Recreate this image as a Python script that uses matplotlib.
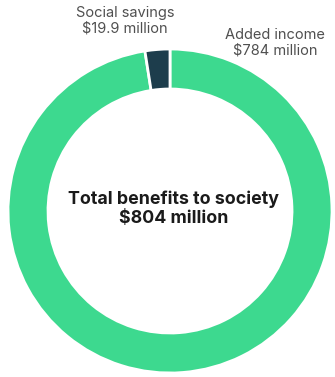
import matplotlib.pyplot as plt

# Data
labels = ["Added income", "Social savings"]
values = [784, 19.9]
value_text = ["$784 million", "$19.9 million"]
total_text = "$804 million"
colors = ["#3DD98F", "#1D3D4C"]

W, H = 335, 377
CX, CY, R = 170, 211, 162


def px(x, y):
    # pixel position -> data coords (radius 1 = R pixels)
    return (x - CX) / R, (CY - y) / R


fig = plt.figure(figsize=(W / 100, H / 100), dpi=100)
ax = fig.add_axes([0, 0, 1, 1])
ax.pie(values, colors=colors, startangle=90, counterclock=False, radius=1,
       wedgeprops=dict(width=40 / R, edgecolor="white", linewidth=2))
ax.set_xlim(-CX / R, (W - CX) / R)
ax.set_ylim(-(H - CY) / R, CY / R)
ax.set_aspect("equal")
ax.axis("off")

lab_font = dict(fontsize=10.5, color="#505050", ha="center", va="center",
                family="Inter", linespacing=1.15)
ax.text(*px(125, 21), labels[1] + "\n" + value_text[1].replace("$", r"\$"), **lab_font)
ax.text(*px(275, 43), labels[0] + "\n" + value_text[0].replace("$", r"\$"), **lab_font)

ax.text(*px(174, 209), "Total benefits to society\n" + total_text.replace("$", r"\$"),
        fontsize=12.8, fontweight="bold", color="#1a1a1a", ha="center", va="center",
        family="Inter", linespacing=1.15)

fig.savefig("out.png", dpi=100, facecolor="white")
